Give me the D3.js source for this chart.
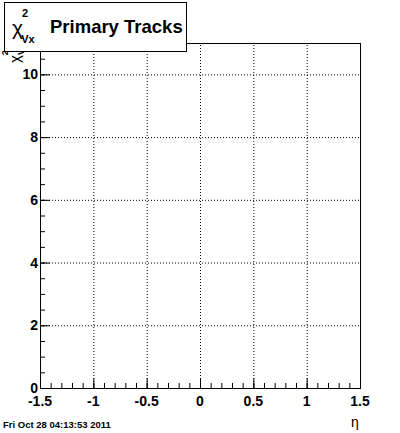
<!DOCTYPE html>
<html lang="en">
  <head>
    <meta charset="utf-8"/>
    <script src="https://cdn.jsdelivr.net/npm/d3@7"></script>
    <style>
     body { margin: 0; background: #fff; }
     text { font-family: "Liberation Sans", Arial, sans-serif; }
    </style>
  </head>
  <body>
    <script>
     // axis ranges and tick labels
     let xDomain = [-1.5, 1.5];
     let yDomain = [0, 11];
     let xMajor = [-1.5, -1, -0.5, 0, 0.5, 1, 1.5];
     let yMajor = [0, 2, 4, 6, 8, 10];
     let titleText = "Primary Tracks";
     let dateText = "Fri Oct 28 04:13:53 2011";

     let w = 400, h = 433;
     let pLeft = 40, pRight = 360, pTop = 43, pBottom = 388;

     let svg = d3.select("body").append("svg")
       .attr("width", w).attr("height", h);

     let x = d3.scaleLinear().domain(xDomain).range([pLeft, pRight]);
     let y = d3.scaleLinear().domain(yDomain).range([pBottom, pTop]);

     // minor ticks every 0.1 on x, every 0.5 on y
     let xMinor = d3.range(-15, 16).map(d => d / 10);
     let yMinor = d3.range(0, 22).map(d => d / 2);

     // grid (dotted)
     svg.selectAll("line.gx").data(xMajor.slice(1)).enter().append("line")
       .attr("x1", d => x(d) + 0.5).attr("x2", d => x(d) + 0.5)
       .attr("y1", pBottom).attr("y2", pTop)
       .attr("stroke", "#000").attr("stroke-dasharray", "1,2");
     svg.selectAll("line.gy").data(yMajor.slice(1)).enter().append("line")
       .attr("x1", pLeft).attr("x2", pRight)
       .attr("y1", d => y(d) + 0.5).attr("y2", d => y(d) + 0.5)
       .attr("stroke", "#000").attr("stroke-dasharray", "1,2");

     // frame
     svg.append("rect")
       .attr("x", pLeft + 0.5).attr("y", pTop + 0.5)
       .attr("width", pRight - pLeft).attr("height", pBottom - pTop)
       .attr("fill", "none").attr("stroke", "#000");

     // x axis ticks
     let xAxis = d3.axisTop(x).tickValues(xMinor)
       .tickSize(5).tickFormat("");
     svg.append("g").attr("transform", "translate(0," + pBottom + ")").call(xAxis);
     let xAxisMaj = d3.axisTop(x).tickValues(xMajor)
       .tickSize(10).tickFormat("");
     svg.append("g").attr("transform", "translate(0," + pBottom + ")").call(xAxisMaj);

     // y axis ticks
     let yAxis = d3.axisRight(y).tickValues(yMinor)
       .tickSize(5).tickFormat("");
     svg.append("g").attr("transform", "translate(" + pLeft + ",0)").call(yAxis);
     let yAxisMaj = d3.axisRight(y).tickValues(yMajor)
       .tickSize(10).tickFormat("");
     svg.append("g").attr("transform", "translate(" + pLeft + ",0)").call(yAxisMaj);

     svg.selectAll(".domain").attr("stroke", "#000");
     svg.selectAll(".tick line").attr("stroke", "#000");

     // tick labels
     svg.selectAll("text.xl").data(xMajor).enter().append("text")
       .attr("x", d => x(d)).attr("y", pBottom + 18)
       .attr("text-anchor", "middle")
       .attr("font-size", "14px").attr("font-weight", "bold")
       .text(d => d);
     svg.selectAll("text.yl").data(yMajor).enter().append("text")
       .attr("x", pLeft - 2).attr("y", d => y(d) + 5)
       .attr("text-anchor", "end")
       .attr("font-size", "14px").attr("font-weight", "bold")
       .text(d => d);

     // axis titles
     svg.append("text")
       .attr("x", 355).attr("y", 427)
       .attr("text-anchor", "middle").attr("font-size", "14px")
       .text("η");
     // y title, mostly hidden behind the title box like in the picture
     let yt = svg.append("text")
       .attr("transform", "translate(20,63) rotate(-90)")
       .attr("font-size", "15px");
     yt.append("tspan").text("χ");
     yt.append("tspan").attr("dy", -12).attr("font-size", "9px").attr("font-weight", "bold").text("2");
     yt.append("tspan").attr("dy", 16).attr("dx", -5).attr("font-size", "9px").attr("font-weight", "bold").text("Vx");

     // title box
     svg.append("rect")
       .attr("x", 4.5).attr("y", 2.5).attr("width", 182).attr("height", 49)
       .attr("fill", "#fff").attr("stroke", "#000");
     let tt = svg.append("text").attr("x", 12).attr("y", 35).attr("font-size", "21px");
     tt.append("tspan").text("χ");
     tt.append("tspan").attr("dy", -18).attr("dx", -1).attr("font-size", "11px").attr("font-weight", "bold").text("2");
     tt.append("tspan").attr("dy", 26).attr("dx", -7).attr("font-size", "11px").attr("font-weight", "bold").text("Vx");
     svg.append("text")
       .attr("x", 50).attr("y", 33)
       .attr("font-size", "18.5px").attr("font-weight", "bold")
       .text(titleText);

     // date stamp
     svg.append("text")
       .attr("x", 3).attr("y", 428)
       .attr("font-size", "9.5px").attr("font-weight", "bold")
       .text(dateText);
    </script>
  </body>
</html>
